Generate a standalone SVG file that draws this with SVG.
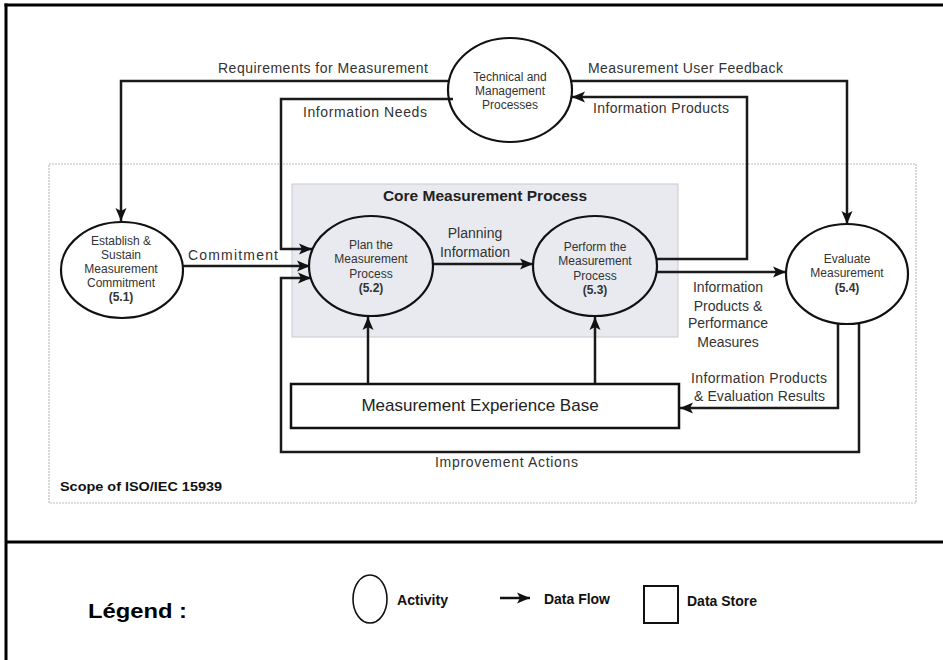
<svg xmlns="http://www.w3.org/2000/svg" width="943" height="660" viewBox="0 0 943 660">
<defs>
<marker id="arr" markerUnits="userSpaceOnUse" markerWidth="14" markerHeight="12" refX="13" refY="6" orient="auto">
<path d="M0,0.5 L13,6 L0,11.5 L3,6 z" fill="#111"/>
</marker>
<style>
.frame{stroke:#000;stroke-width:3;fill:none}
.flow{stroke:#1a1a1a;stroke-width:2.5;fill:none;marker-end:url(#arr)}
.act{fill:none;stroke:#111;stroke-width:2.2}
.actf{fill:#e8eaf0;stroke:#111;stroke-width:2.2}
.nt{font-family:"Liberation Sans",Arial,sans-serif;font-size:12px;fill:#333;text-anchor:middle}
.nb{font-family:"Liberation Sans",Arial,sans-serif;font-size:12px;font-weight:bold;fill:#333;text-anchor:middle}
.lbl{font-family:"Liberation Sans",Arial,sans-serif;font-size:14px;fill:#333}
.lblc{font-family:"Liberation Sans",Arial,sans-serif;font-size:14px;fill:#333;text-anchor:middle}
.leg{font-family:"Liberation Sans",Arial,sans-serif;font-size:14px;font-weight:bold;fill:#111}
</style>
</defs>
<rect width="943" height="660" fill="#fff"/>
<g id="frame">
<line class="frame" x1="6" y1="3.5" x2="6" y2="660"/>
<line class="frame" x1="4.5" y1="5" x2="943" y2="5"/>
<line class="frame" x1="6" y1="542" x2="943" y2="542"/>
</g>
<g id="scope">
<rect x="49" y="164" width="867" height="339" fill="none" stroke="#bdbdbd" stroke-width="1.2" stroke-dasharray="2,1"/>
<text x="60" y="491" class="leg" style="font-size:12px" textLength="162" lengthAdjust="spacingAndGlyphs">Scope of ISO/IEC 15939</text>
</g>
<g id="core">
<rect x="292" y="184" width="386" height="153" fill="#e8eaf0" stroke="#c9c9cf" stroke-width="1"/>
<text x="485" y="201" font-family="Liberation Sans,Arial,sans-serif" font-size="15.5" font-weight="bold" fill="#222" text-anchor="middle">Core Measurement Process</text>
</g>
<g id="connectors">
<polyline class="flow" points="449,81 121,81 121,221"/>
<polyline class="flow" points="453,99 281,99 281,249 312,249"/>
<polyline class="flow" points="183,266 310,266"/>
<polyline class="flow" points="859,323 859,452 281,452 281,278 311,278"/>
<polyline class="flow" points="433,264 533,264"/>
<polyline class="flow" points="368,384 368,317"/>
<polyline class="flow" points="595,384 595,317"/>
<polyline class="flow" points="656,259 747,259 747,97 572,97"/>
<polyline class="flow" points="657,272 786,272"/>
<polyline class="flow" points="570,81 847,81 847,224"/>
<polyline class="flow" points="838,323 838,408 680,408"/>
<text class="lbl" x="218" y="73" textLength="210">Requirements for Measurement</text>
<text class="lbl" x="303" y="117" textLength="124">Information Needs</text>
<text class="lbl" x="588" y="73" textLength="195">Measurement User Feedback</text>
<text class="lbl" x="593" y="113" textLength="136">Information Products</text>
<text class="lbl" x="188" y="260" textLength="90">Commitment</text>
<text class="lblc" x="475" y="238">Planning</text>
<text class="lblc" x="475" y="257">Information</text>
<text class="lblc" x="728" y="292">Information</text>
<text class="lblc" x="728" y="311">Products &amp;</text>
<text class="lblc" x="728" y="328">Performance</text>
<text class="lblc" x="728" y="347">Measures</text>
<text class="lbl" x="691" y="383" textLength="136">Information Products</text>
<text class="lbl" x="694" y="401" textLength="131">&amp; Evaluation Results</text>
<text class="lbl" x="435" y="467" textLength="143">Improvement Actions</text>
</g>
<g id="tech">
<ellipse class="act" cx="510" cy="90" rx="62" ry="52"/>
<text class="nt" x="510" y="81" font-size="12.5">Technical and</text>
<text class="nt" x="510" y="95" font-size="12.5">Management</text>
<text class="nt" x="510" y="109" font-size="12.5">Processes</text>
</g>
<g id="establish">
<ellipse class="act" cx="122" cy="270" rx="61" ry="48"/>
<text class="nt" x="121" y="245" font-size="13">Establish &amp;</text>
<text class="nt" x="121" y="259" font-size="13">Sustain</text>
<text class="nt" x="121" y="273" font-size="13">Measurement</text>
<text class="nt" x="121" y="287" font-size="13">Commitment</text>
<text class="nb" x="121" y="301">(5.1)</text>
</g>
<g id="plan">
<ellipse class="actf" cx="371" cy="266" rx="62" ry="50"/>
<text class="nt" x="371" y="249">Plan the</text>
<text class="nt" x="371" y="263">Measurement</text>
<text class="nt" x="371" y="278">Process</text>
<text class="nb" x="371" y="292">(5.2)</text>
</g>
<g id="perform">
<ellipse class="actf" cx="595" cy="266" rx="62" ry="50"/>
<text class="nt" x="595" y="251">Perform the</text>
<text class="nt" x="595" y="265">Measurement</text>
<text class="nt" x="595" y="280">Process</text>
<text class="nb" x="595" y="294">(5.3)</text>
</g>
<g id="evaluate">
<ellipse class="act" cx="847" cy="274" rx="61" ry="50"/>
<text class="nt" x="847" y="263">Evaluate</text>
<text class="nt" x="847" y="277">Measurement</text>
<text class="nb" x="847" y="292">(5.4)</text>
</g>
<g id="experience">
<rect x="291" y="384" width="388" height="44" fill="#fff" stroke="#111" stroke-width="2.5"/>
<text x="480" y="411" font-family="Liberation Sans,Arial,sans-serif" font-size="17" fill="#222" text-anchor="middle">Measurement Experience Base</text>
</g>
<g id="legend">
<text x="88" y="618" font-family="Liberation Sans,Arial,sans-serif" font-size="21" font-weight="bold" fill="#000" textLength="99" lengthAdjust="spacingAndGlyphs">Légend :</text>
<ellipse cx="370" cy="599" rx="17" ry="24" fill="none" stroke="#111" stroke-width="1.6"/>
<text class="leg" x="397" y="605" textLength="51" lengthAdjust="spacingAndGlyphs">Activity</text>
<line x1="500" y1="598" x2="530" y2="598" stroke="#111" stroke-width="2.5" marker-end="url(#arr)"/>
<text class="leg" x="544" y="604" textLength="66" lengthAdjust="spacingAndGlyphs">Data Flow</text>
<rect x="644" y="586" width="34" height="37" fill="none" stroke="#111" stroke-width="2"/>
<text class="leg" x="687" y="606" textLength="70" lengthAdjust="spacingAndGlyphs">Data Store</text>
</g>
</svg>
